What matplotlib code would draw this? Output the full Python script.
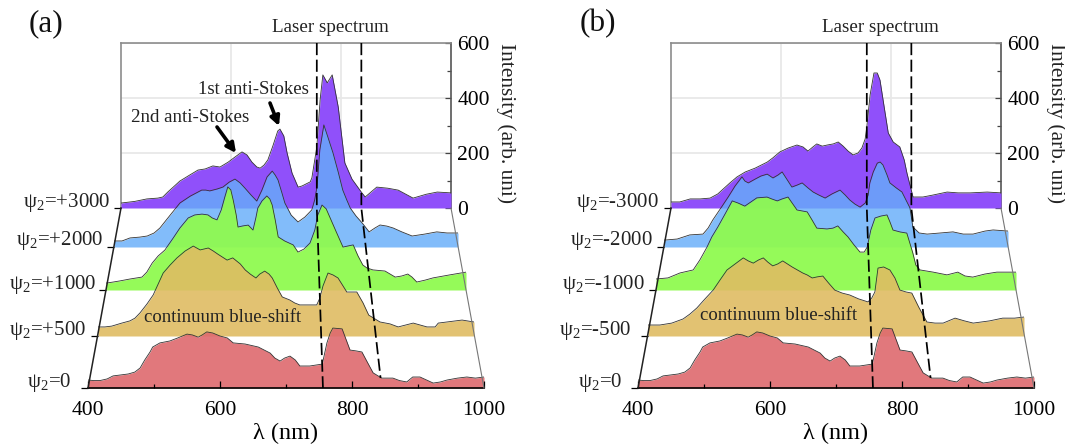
import matplotlib
matplotlib.use("Agg")
import matplotlib.pyplot as plt
from matplotlib.ticker import MultipleLocator

plt.rcParams['font.family'] = ['Liberation Serif', 'DejaVu Serif']
plt.rcParams['mathtext.fontset'] = 'custom'
plt.rcParams['mathtext.rm'] = 'Liberation Serif'
plt.rcParams['mathtext.default'] = 'regular'

# shared bottom trace, same in both panels
wl_0 = [400, 409, 418, 429, 438, 448, 461, 471, 479, 486, 494, 498, 509, 524, 536, 550, 558, 567, 573, 580,
        589, 600, 611, 620, 638, 658, 667, 676, 683, 691, 698, 706, 714, 721, 736, 755, 762, 767, 771, 785,
        797, 806, 815, 823, 832, 845, 862, 872, 883, 892, 903, 913, 923, 934, 944, 960, 974, 987, 1000]
int_0 = [29, 27, 27, 33, 44, 47, 51, 58, 73, 102, 131, 149, 164, 171, 182, 196, 193, 185, 193, 204,
         200, 189, 182, 164, 160, 149, 138, 127, 109, 98, 109, 116, 102, 80, 80, 87, 164, 200, 218, 215,
         138, 135, 131, 95, 55, 36, 36, 27, 22, 40, 40, 29, 18, 22, 29, 36, 40, 36, 40]

# panel (a), positive chirp
wl_a_500 = [400, 411, 422, 438, 451, 459, 467, 478, 488, 496, 504, 515, 526, 539, 552, 563, 576, 584, 591, 606,
            615, 627, 635, 643, 652, 658, 666, 673, 678, 686, 694, 706, 714, 722, 735, 749, 754, 759, 767, 775,
            783, 791, 797, 805, 813, 823, 832, 850, 866, 879, 903, 925, 938, 943, 981, 1000]
int_a_500 = [33, 33, 36, 47, 55, 65, 84, 116, 149, 189, 229, 258, 284, 309, 327, 313, 320, 309, 298, 276,
             284, 262, 240, 225, 211, 225, 236, 225, 211, 175, 142, 131, 120, 113, 113, 113, 138, 182, 229, 222,
             211, 182, 160, 160, 160, 120, 76, 51, 44, 33, 47, 33, 33, 47, 58, 51]
wl_a_1000 = [400, 412, 423, 440, 460, 468, 477, 487, 498, 512, 523, 537, 548, 560, 570, 577, 585, 592, 598, 603,
             608, 612, 617, 620, 628, 637, 645, 650, 653, 660, 668, 673, 677, 682, 687, 698, 712, 720, 730, 740,
             748, 753, 760, 767, 773, 783, 795, 803, 812, 820, 828, 835, 845, 865, 882, 893, 903, 910, 918, 932,
             945, 973, 1000]
int_a_1000 = [25, 29, 33, 40, 47, 65, 98, 124, 145, 189, 225, 262, 273, 276, 273, 262, 255, 291, 338, 375,
              364, 327, 273, 229, 233, 236, 218, 265, 298, 324, 342, 331, 309, 255, 193, 178, 164, 138, 149, 171,
              218, 273, 309, 295, 265, 215, 156, 160, 164, 124, 91, 80, 73, 69, 47, 51, 58, 47, 29, 36,
              44, 55, 65]
wl_a_2000 = [400, 414, 428, 445, 458, 470, 480, 498, 515, 533, 553, 560, 567, 580, 590, 601, 611, 620, 628, 639,
             649, 658, 667, 676, 681, 686, 693, 698, 709, 721, 733, 745, 750, 754, 759, 766, 773, 782, 791, 799,
             806, 812, 822, 833, 845, 855, 864, 876, 887, 902, 920, 942, 963, 981, 1000]
int_a_2000 = [22, 22, 33, 36, 40, 51, 69, 116, 160, 185, 207, 207, 204, 211, 218, 236, 247, 233, 215, 189,
              167, 207, 255, 276, 262, 244, 196, 160, 116, 91, 109, 135, 171, 218, 353, 444, 400, 342, 273, 207,
              171, 142, 113, 87, 55, 69, 80, 76, 69, 55, 40, 47, 55, 51, 51]
wl_a_3000 = [400, 425, 447, 467, 476, 485, 495, 507, 525, 540, 553, 567, 580, 595, 607, 620, 629, 638, 647, 653,
             660, 667, 676, 685, 689, 696, 702, 711, 722, 729, 744, 747, 756, 762, 767, 775, 784, 795, 807, 820,
             838, 844, 865, 885, 904, 931, 955, 975, 1000]
int_a_3000 = [18, 24, 33, 36, 40, 58, 76, 98, 120, 138, 142, 153, 149, 167, 185, 204, 193, 167, 149, 145,
              156, 175, 225, 280, 287, 262, 200, 127, 76, 80, 95, 109, 222, 393, 484, 455, 484, 367, 164, 105,
              55, 40, 76, 72, 65, 36, 50, 58, 55]

# panel (b), negative chirp
wl_b_500 = [400, 410, 419, 438, 456, 467, 478, 491, 504, 515, 526, 539, 552, 560, 568, 576, 584, 591, 599, 607,
            615, 630, 647, 654, 662, 670, 679, 688, 698, 710, 722, 736, 751, 757, 762, 767, 776, 786, 794, 802,
            812, 821, 832, 845, 858, 871, 890, 905, 919, 945, 966, 985, 1000]
int_b_500 = [40, 40, 40, 47, 62, 80, 102, 135, 167, 204, 240, 262, 284, 273, 265, 276, 284, 269, 255, 262,
             273, 251, 229, 222, 211, 215, 218, 193, 167, 156, 149, 135, 124, 138, 160, 247, 251, 240, 211, 167,
             160, 156, 105, 51, 47, 47, 65, 55, 47, 55, 65, 65, 69]
wl_b_1000 = [400, 420, 440, 462, 473, 485, 493, 503, 515, 527, 537, 548, 558, 568, 585, 593, 602, 610, 620, 627,
             635, 652, 660, 668, 685, 695, 703, 712, 720, 730, 740, 747, 752, 758, 765, 775, 785, 790, 795, 807,
             818, 823, 828, 833, 840, 862, 885, 903, 915, 928, 948, 968, 1000]
int_b_1000 = [40, 44, 62, 73, 109, 156, 193, 229, 276, 324, 316, 305, 320, 335, 338, 331, 324, 331, 338, 316,
              291, 284, 255, 225, 222, 225, 233, 211, 193, 164, 138, 138, 156, 218, 262, 269, 273, 247, 218, 211,
              207, 171, 135, 91, 73, 65, 55, 65, 51, 47, 58, 65, 65]
wl_b_2000 = [400, 423, 445, 468, 477, 485, 498, 512, 524, 536, 541, 547, 559, 569, 580, 590, 599, 606, 615, 623,
             632, 641, 651, 660, 670, 681, 693, 707, 716, 724, 733, 742, 751, 756, 759, 765, 772, 777, 782, 789,
             794, 805, 815, 822, 829, 834, 845, 859, 882, 904, 922, 939, 960, 974, 1000]
int_b_2000 = [25, 29, 44, 47, 69, 98, 138, 182, 222, 255, 240, 233, 247, 258, 265, 251, 262, 273, 244, 218,
              225, 233, 215, 200, 189, 178, 193, 207, 189, 171, 156, 145, 160, 189, 233, 273, 305, 309, 298, 262,
              233, 215, 200, 171, 142, 73, 51, 47, 51, 55, 47, 47, 58, 62, 58]
wl_b_3000 = [400, 416, 435, 453, 471, 485, 507, 520, 535, 553, 575, 585, 598, 613, 629, 640, 649, 658, 665, 675,
             684, 695, 704, 713, 722, 731, 740, 747, 753, 756, 762, 769, 775, 780, 787, 795, 804, 816, 824, 829,
             835, 840, 858, 876, 902, 922, 944, 975, 1000]
int_b_3000 = [22, 22, 33, 33, 36, 51, 91, 113, 131, 145, 167, 182, 204, 218, 229, 222, 207, 222, 233, 225,
              229, 233, 240, 225, 207, 193, 200, 218, 251, 295, 411, 491, 491, 465, 375, 273, 240, 222, 175, 127,
              80, 40, 40, 47, 58, 55, 55, 58, 55]

a_series = [(wl_a_3000, int_a_3000), (wl_a_2000, int_a_2000), (wl_a_1000, int_a_1000), (wl_a_500, int_a_500), (wl_0, int_0)]
b_series = [(wl_b_3000, int_b_3000), (wl_b_2000, int_b_2000), (wl_b_1000, int_b_1000), (wl_b_500, int_b_500), (wl_0, int_0)]
a_labels = ['+3000', '+2000', '+1000', '+500', '0']
b_labels = ['-3000', '-2000', '-1000', '-500', '0']
colors = ['#9050FA', '#66ADF9', '#8FFA4F', '#DFBC63', '#DE696E']
alphas = [1, 0.82, 0.94, 0.9, 0.9]
laser_back = [756, 837]
laser_front = [756, 845]

W, H = 1065, 445
# pixel layout of the ribbons: left edge, right edge, baseline
rows = [(121, 451, 208), (114, 458, 247), (106, 466, 290), (98, 474, 336), (88, 484, 388)]
ROW_H = 165
label_gap = [[11, 11, 10, 12, 17], [12, 11, 11, 17, 16]]

fig = plt.figure(figsize=(W / 100, H / 100), dpi=100)


def px_axes(x0, x1, base, z):
    ax = fig.add_axes([x0 / W, 1 - base / H, (x1 - x0) / W, ROW_H / H], zorder=z)
    ax.set_xlim(400, 1000)
    ax.set_ylim(0, 600)
    ax.patch.set_visible(False)
    return ax


def x_at(row, wl):
    x0, x1, _ = rows[row]
    return x0 + (wl - 400) / 600 * (x1 - x0)


def draw_panel(shift, series, labels, gaps, over):
    # back wall with the grid
    x0, x1, base = rows[0]
    back = px_axes(x0 + shift, x1 + shift, base, 1)
    back.grid(True, color='#e8e8e8', lw=1.3)
    back.set_axisbelow(True)
    back.set_xticks([600, 800])
    back.set_yticks([0, 200, 400, 600])
    back.yaxis.set_minor_locator(MultipleLocator(100))
    back.yaxis.tick_right()
    back.tick_params(axis='x', length=0, labelbottom=False)
    back.tick_params(axis='y', which='major', direction='in', length=4.5, width=0.9, color='#444444',
                     labelsize=15.5, pad=4.5)
    back.tick_params(axis='y', which='minor', direction='in', length=3, width=0.9, color='#444444')
    back.spines['bottom'].set_visible(False)
    back.spines['left'].set_color('#8c8c8c')
    back.spines['top'].set_color('#8c8c8c')
    back.spines['right'].set_color('#555555')
    for s in ['left', 'top', 'right']:
        back.spines[s].set_linewidth(1.2)

    # ribbons, back to front
    for i, (wl, vals) in enumerate(series):
        x0, x1, base = rows[i]
        ax = px_axes(x0 + shift, x1 + shift, base, 2 + i)
        ax.fill_between(wl, 0, vals, color=colors[i], alpha=alphas[i], lw=0)
        ax.plot(wl, vals, color='#333333', lw=0.6)
        for s in ['left', 'top', 'right', 'bottom']:
            ax.spines[s].set_visible(False)
        ax.set_yticks([0])
        ax.set_yticklabels([''])
        ax.tick_params(axis='y', direction='out', length=5, width=0.9)
        ax.annotate('ψ$_2$=' + labels[i], (0, 0), xycoords='axes fraction',
                    xytext=(-gaps[i], 1.5), textcoords='offset pixels',
                    ha='right', va='baseline', fontsize=15, color='#222222', annotation_clip=False)
        if i == len(series) - 1:
            ax.spines['bottom'].set_visible(True)
            ax.spines['bottom'].set_linewidth(1.2)
            ax.set_xticks([400, 600, 800, 1000])
            ax.xaxis.set_minor_locator(MultipleLocator(100))
            ax.tick_params(axis='x', which='major', direction='in', length=5, width=0.9, labelsize=15.5, pad=9.5)
            ax.tick_params(axis='x', which='minor', direction='in', length=3, width=0.9)
            ax.set_xlabel('λ (nm)', fontsize=17.5, labelpad=2)
        else:
            ax.set_xticks([])

    # side edges of the floor
    over.plot([rows[4][0] + shift, rows[0][0] + shift], [rows[4][2], rows[0][2]], color='#222222', lw=1.1)
    over.plot([rows[4][1] + shift, rows[0][1] + shift], [rows[4][2], rows[0][2]], color='#777777', lw=0.8)

    # laser band: straight up the wall, slanted over the floor
    ends = [388, 378]
    for wb, wf, end in zip(laser_back, laser_front, ends):
        xb = x_at(0, wb) + shift
        xf = x_at(4, wf) + shift
        t = (end - 208) / 180
        over.plot([xb, xb, xb + (xf - xb) * t], [43, 208, end], color='black', lw=1.25, dashes=(7, 2.6))

    over.text(330 + shift, 27, 'Laser spectrum', ha='center', va='center', fontsize=13.7, color='#222222')
    over.text(506 + shift, 123, 'Intensity (arb. uni)', rotation=270, ha='center', va='center', fontsize=15.4, color='#222222')


over = fig.add_axes([0, 0, 1, 1], zorder=20)
over.set_xlim(0, W)
over.set_ylim(H, 0)
over.axis('off')

draw_panel(0, a_series, a_labels, label_gap[0], over)
draw_panel(550, b_series, b_labels, label_gap[1], over)

over.text(46, 24, '(a)', ha='center', va='center', fontsize=22.5, color='#111111')
over.text(598, 24, '(b)', ha='center', va='center', fontsize=22.5, color='#111111')
over.text(253, 90, '1st anti-Stokes', ha='center', va='center', fontsize=13.5, color='#222222')
over.text(190, 118, '2nd anti-Stokes', ha='center', va='center', fontsize=13.7, color='#222222')
over.text(223, 318, 'continuum blue-shift', ha='center', va='center', fontsize=13.5, color='#222222')
over.text(779, 316, 'continuum blue-shift', ha='center', va='center', fontsize=13.5, color='#222222')

arrow = dict(arrowstyle='-|>,head_width=0.28,head_length=0.55', color='black', lw=2.6, shrinkA=0, shrinkB=0)
over.annotate('', xy=(236, 153), xytext=(217, 127), arrowprops=arrow)
over.annotate('', xy=(279, 126), xytext=(270, 103), arrowprops=arrow)

fig.savefig('out.png', dpi=100, facecolor='white')
